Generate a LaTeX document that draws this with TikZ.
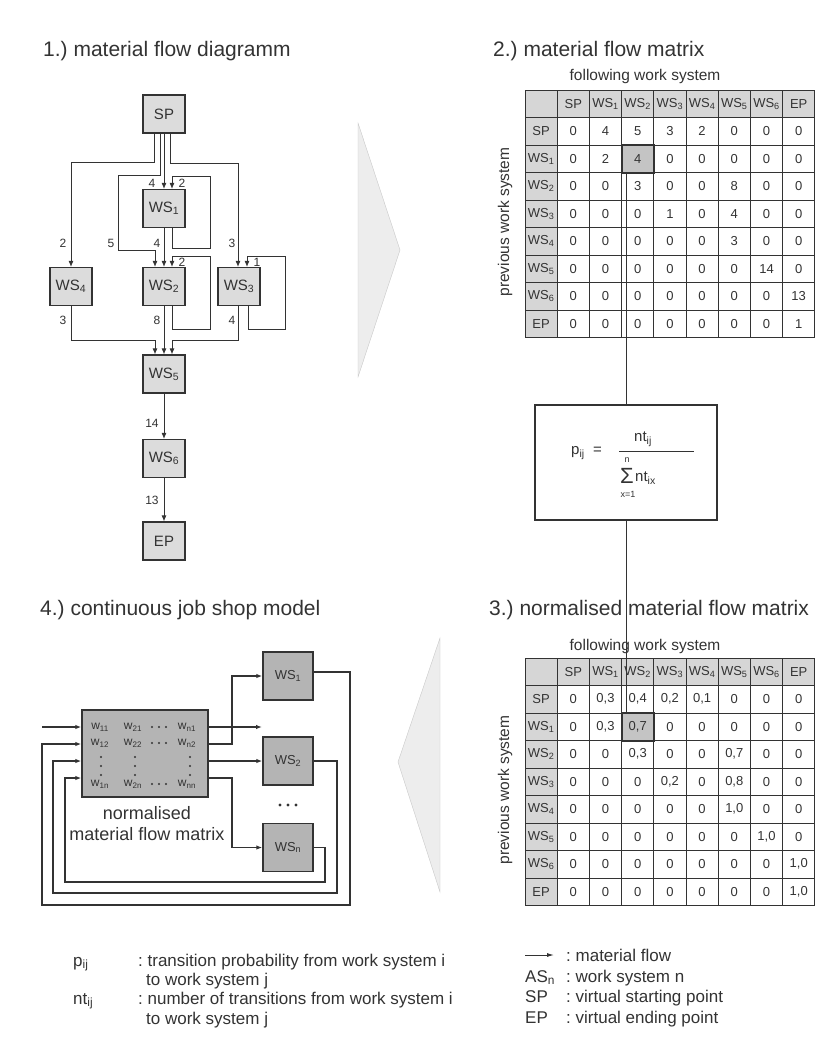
\documentclass[tikz,border=0pt]{standalone}
\usepackage{fontspec}
\setmainfont{Liberation Sans}
\usetikzlibrary{arrows.meta}
\definecolor{ink}{HTML}{333333}
\definecolor{boxfill}{HTML}{DCDCDC}
\definecolor{hdrfill}{HTML}{D6D6D6}
\definecolor{hlfill}{HTML}{C4C4C4}
\definecolor{modfill}{HTML}{B4B4B4}
\definecolor{trifill}{HTML}{EDEDED}
\newcommand\fsz[1]{\fontsize{#1}{#1}\selectfont}
\frenchspacing
\begin{document}
\begin{tikzpicture}[x=1pt,y=-1pt,
  wsbox/.style={draw=ink, fill=boxfill, line width=1.2pt, minimum width=42pt, minimum height=38pt, inner sep=0pt, font=\fsz{15}, text=ink},
  flow/.style={draw=ink, line width=0.85pt, -{Latex[length=6pt,width=5pt]}},
  lbl/.style={font=\fsz{12}, text=ink, inner sep=0pt},
  title/.style={font=\fsz{21}, text=ink, anchor=base west, inner sep=0pt},
  cell/.style={font=\fsz{13}, text=ink, inner sep=0pt},
  gridline/.style={draw=ink, line width=1pt},
  hl/.style={draw=ink, line width=2pt, fill=hlfill, minimum width=32.2pt, minimum height=27.5pt, inner sep=0pt},
  axis/.style={font=\fsz{15.5}, text=ink, inner sep=0pt},
  conn/.style={draw=ink, line width=0.9pt},
  ftext/.style={font=\fsz{15}, text=ink, inner sep=0pt},
  fsmall/.style={font=\fsz{9}, text=ink, inner sep=0pt},
  modbox/.style={draw=ink, fill=modfill, line width=1.4pt, inner sep=0pt},
  mflow/.style={draw=ink, line width=1.2pt, -{Latex[length=6pt,width=4.5pt]}},
  wtext/.style={font=\fsz{12}, text=ink, inner sep=0pt},
  mtext/.style={font=\fsz{18}, text=ink, inner sep=0pt},
  leg/.style={font=\fsz{17}, text=ink, inner sep=0pt, anchor=base west},
  tri/.style={fill=trifill, draw=trifill!85!black, line width=0.4pt}
]
\useasboundingbox (0,0) rectangle (840,1045);
\fill[white] (0,0) rectangle (840,1045);

% ---------- titles ----------
\node[title] (t1) at (43,56) {1.) material flow diagramm};
\node[title] (t2) at (493,56) {2.) material flow matrix};
\node[title] (t3) at (489,615) {3.) normalised material flow matrix};
\node[title] (t4) at (40,615) {4.) continuous job shop model};

% ---------- big triangles ----------
\filldraw[tri] (358,123) -- (358,377) -- (400,250) -- cycle;
\filldraw[tri] (440,638) -- (440,892) -- (398,762) -- cycle;

% ---------- 1.) material flow diagram ----------
\node[wsbox] (SP) at (164,114) {SP};
\node[wsbox] (W1) at (164,208.5) {WS\textsubscript{1}};
\node[wsbox] (W4) at (71,286.5) {WS\textsubscript{4}};
\node[wsbox] (W2) at (164,286.5) {WS\textsubscript{2}};
\node[wsbox] (W3) at (239,286.5) {WS\textsubscript{3}};
\node[wsbox] (W5) at (164,374) {WS\textsubscript{5}};
\node[wsbox] (W6) at (164,458.5) {WS\textsubscript{6}};
\node[wsbox] (EP) at (164,541) {EP};

\draw[flow] ([xshift=-10pt]SP.south) -- ++(0,29) -| (W4.north);
\draw[flow] ([xshift=-4pt]SP.south) -- ++(0,42) -- ++(-42,0) -- ++(0,75) -| ([xshift=-9pt]W2.north);
\draw[flow] (SP.south) -- (W1.north);
\draw[flow] ([xshift=6pt]SP.south) -- ++(0,30) -| ([xshift=-1pt]W3.north);
\draw[flow] ([xshift=8pt]W1.south) -- ++(0,20) -- ++(38,0) -- ++(0,-72) -| ([xshift=8pt]W1.north);
\draw[flow] (W1.south) -- (W2.north);
\draw[flow] ([xshift=8pt]W2.south) -- ++(0,23) -- ++(38,0) -- ++(0,-73) -| ([xshift=8pt]W2.north);
\draw[flow] ([xshift=9pt]W3.south) -- ++(0,23) -- ++(37,0) -- ++(0,-73) -| ([xshift=8pt]W3.north);
\draw[flow] (W4.south) -- ++(0,34) -| ([xshift=-9pt]W5.north);
\draw[flow] (W2.south) -- (W5.north);
\draw[flow] ([xshift=-1pt]W3.south) -- ++(0,34) -| ([xshift=8pt]W5.north);
\draw[flow] (W5.south) -- (W6.north);
\draw[flow] (W6.south) -- (EP.north);

\node[lbl] (l1) at (152,183) {4};
\node[lbl] (l2) at (182,183) {2};
\node[lbl] (l3) at (63,243) {2};
\node[lbl] (l4) at (111,243) {5};
\node[lbl] (l5) at (157,243) {4};
\node[lbl] (l6) at (232,243) {3};
\node[lbl] (l7) at (182,262) {2};
\node[lbl] (l8) at (257,262) {1};
\node[lbl] (l9) at (63,320) {3};
\node[lbl] (l10) at (157,320) {8};
\node[lbl] (l11) at (232,320) {4};
\node[lbl] (l12) at (152,423) {14};
\node[lbl] (l13) at (152,500) {13};

% ---------- 2.) material flow matrix ----------
\node[axis] (fA) at (645,76) {following work system};
\node[axis, rotate=90] (pA) at (505,222) {previous work system};
\fill[hdrfill] (525,90) rectangle (815,117.5);
\fill[hdrfill] (525,117.5) rectangle (557.2,337.5);
\foreach \i in {0,...,9}{\draw[gridline] ({525+\i*32.2},90) -- ({525+\i*32.2},337.5);}
\foreach \j in {0,...,9}{\draw[gridline] (525,{90+\j*27.5}) -- (815,{90+\j*27.5});}
\node[hl] (hlA) at ({525+3.5*32.2},{90+2.5*27.5}) {};
\foreach \v [count=\c] in {SP,WS\textsubscript{1},WS\textsubscript{2},WS\textsubscript{3},WS\textsubscript{4},WS\textsubscript{5},WS\textsubscript{6},EP}{
  \node[cell] (mA-0-\c) at ({525+(\c+0.5)*32.2},103.75) {\v};
}
\foreach \row [count=\r] in {
  {SP,0,4,5,3,2,0,0,0},
  {WS\textsubscript{1},0,2,4,0,0,0,0,0},
  {WS\textsubscript{2},0,0,3,0,0,8,0,0},
  {WS\textsubscript{3},0,0,0,1,0,4,0,0},
  {WS\textsubscript{4},0,0,0,0,0,3,0,0},
  {WS\textsubscript{5},0,0,0,0,0,0,14,0},
  {WS\textsubscript{6},0,0,0,0,0,0,0,13},
  {EP,0,0,0,0,0,0,0,1}}{
  \foreach \v [count=\c from 0] in \row {
    \node[cell] (mA-\r-\c) at ({525+(\c+0.5)*32.2},{90+(\r+0.5)*27.5}) {\v};
  }
}

% ---------- formula ----------
\node[draw=ink, line width=1.1pt, fill=white, minimum width=182pt, minimum height=115pt, inner sep=0pt] (F) at (626,462.5) {};
\node[ftext, anchor=east] (fp) at (602,453) {p\textsubscript{ij}\ \ =};
\draw[ink, line width=0.8pt] (619,451) -- (694,451);
\node[ftext] (fnum) at (643,439) {nt\textsubscript{ij}};
\node[ftext, font=\fsz{22}] (fsig) at (627,476) {Σ};
\node[fsmall] (fn) at (627,460) {n};
\node[fsmall] (fx) at (628,494) {x=1};
\node[ftext, anchor=west] (fden) at (635,478) {nt\textsubscript{ix}};

% ---------- 3.) normalised matrix ----------
\node[axis] (fB) at (645,646) {following work system};
\node[axis, rotate=90] (pB) at (505,790) {previous work system};
\fill[hdrfill] (525,658) rectangle (815,685.5);
\fill[hdrfill] (525,685.5) rectangle (557.2,905.5);
\foreach \i in {0,...,9}{\draw[gridline] ({525+\i*32.2},658) -- ({525+\i*32.2},905.5);}
\foreach \j in {0,...,9}{\draw[gridline] (525,{658+\j*27.5}) -- (815,{658+\j*27.5});}
\node[hl] (hlB) at ({525+3.5*32.2},{658+2.5*27.5}) {};
\foreach \v [count=\c] in {SP,WS\textsubscript{1},WS\textsubscript{2},WS\textsubscript{3},WS\textsubscript{4},WS\textsubscript{5},WS\textsubscript{6},EP}{
  \node[cell] (mB-0-\c) at ({525+(\c+0.5)*32.2},671.75) {\v};
}
\foreach \row [count=\r] in {
  {SP,0,{0,3},{0,4},{0,2},{0,1},0,0,0},
  {WS\textsubscript{1},0,{0,3},{0,7},0,0,0,0,0},
  {WS\textsubscript{2},0,0,{0,3},0,0,{0,7},0,0},
  {WS\textsubscript{3},0,0,0,{0,2},0,{0,8},0,0},
  {WS\textsubscript{4},0,0,0,0,0,{1,0},0,0},
  {WS\textsubscript{5},0,0,0,0,0,0,{1,0},0},
  {WS\textsubscript{6},0,0,0,0,0,0,0,{1,0}},
  {EP,0,0,0,0,0,0,0,{1,0}}}{
  \foreach \v [count=\c from 0] in \row {
    \node[cell] (mB-\r-\c) at ({525+(\c+0.5)*32.2},{658+(\r+0.5)*27.5}) {\v};
  }
}

% connectors through the formula
\draw[conn] (hlA.south -| F.north) -- (F.north);
\draw[conn] (F.south) -- (F.south |- hlB.north);

% ---------- 4.) continuous job shop model ----------
\node[modbox, minimum width=126pt, minimum height=87pt] (M) at (145,753.5) {};
\node[wtext] (w11) at (100,727) {w\textsubscript{11}};
\node[wtext] (w21) at (133,727) {w\textsubscript{21}};
\node[wtext] (wn1) at (187,727) {w\textsubscript{n1}};
\node[wtext] (w12) at (100,743) {w\textsubscript{12}};
\node[wtext] (w22) at (133,743) {w\textsubscript{22}};
\node[wtext] (wn2) at (187,743) {w\textsubscript{n2}};
\node[wtext] (w1n) at (100,784) {w\textsubscript{1n}};
\node[wtext] (w2n) at (133,784) {w\textsubscript{2n}};
\node[wtext] (wnn) at (187,784) {w\textsubscript{nn}};
\foreach \yy in {727,743,784}{\foreach \xx in {152,159,166}{\fill[ink] (\xx,\yy) circle (1.1pt);}}
\foreach \xx in {101,135,190}{\foreach \yy in {757,766,775}{\fill[ink] (\xx,\yy) circle (1.1pt);}}
\node[mtext] (mt1) at (147,813) {normalised};
\node[mtext] (mt2) at (147,834) {material flow matrix};

\node[modbox, minimum width=50pt, minimum height=48pt, font=\fsz{13}, text=ink] (B1) at (288,676) {WS\textsubscript{1}};
\node[modbox, minimum width=50pt, minimum height=48pt, font=\fsz{13}, text=ink] (B2) at (288,761) {WS\textsubscript{2}};
\node[modbox, minimum width=50pt, minimum height=48pt, font=\fsz{13}, text=ink] (Bn) at (288,847.5) {WS\textsubscript{n}};
\foreach \xx in {280,288,296}{\fill[ink] (\xx,805) circle (1.6pt);}

\coordinate (r1) at (0,727);
\coordinate (r2) at (0,744);
\coordinate (r4) at (0,778);
\coordinate (i1) at (42,727);
\coordinate (o1) at (262,727);

\draw[mflow] (i1) -- (M.west |- r1);
\draw[mflow] (M.east |- r1) -- (o1);
\draw[mflow] (M.east |- r2) -- (232,744) |- (B1.west);
\draw[mflow] (M.east |- B2.west) -- (B2.west);
\draw[mflow] (M.east |- r4) -- (232,778) |- (Bn.west);
\draw[mflow] ([yshift=4pt]B1.east) -| (350,905) -- (42,905) |- (M.west |- r2);
\draw[mflow] (B2.east) -| (337,893) -- (53,893) |- (M.west |- B2.west);
\draw[mflow] (Bn.east) -| (325,882) -- (65,882) |- (M.west |- r4);

% ---------- legend ----------
\node[leg] (lg1) at (73,966) {p\textsubscript{ij}};
\node[leg] (lg1t) at (138,966) {: transition probability from work system i};
\node[leg] (lg1u) at (146,985) {to work system j};
\node[leg] (lg2) at (73,1004) {nt\textsubscript{ij}};
\node[leg] (lg2t) at (138,1004) {: number of transitions from work system i};
\node[leg] (lg2u) at (146,1024) {to work system j};

\coordinate (la1) at (525,955);
\coordinate (la2) at (554,955);
\draw[draw=ink, line width=1pt, -{Latex[length=7pt,width=4pt]}] (la1) -- (la2);
\node[leg] (lg3t) at (566,961) {: material flow};
\node[leg] (lg4) at (525,982) {AS\textsubscript{n}};
\node[leg] (lg4t) at (566,982) {: work system n};
\node[leg] (lg5) at (525,1002) {SP};
\node[leg] (lg5t) at (566,1002) {: virtual starting point};
\node[leg] (lg6) at (525,1023) {EP};
\node[leg] (lg6t) at (566,1023) {: virtual ending point};
\end{tikzpicture}
\end{document}
